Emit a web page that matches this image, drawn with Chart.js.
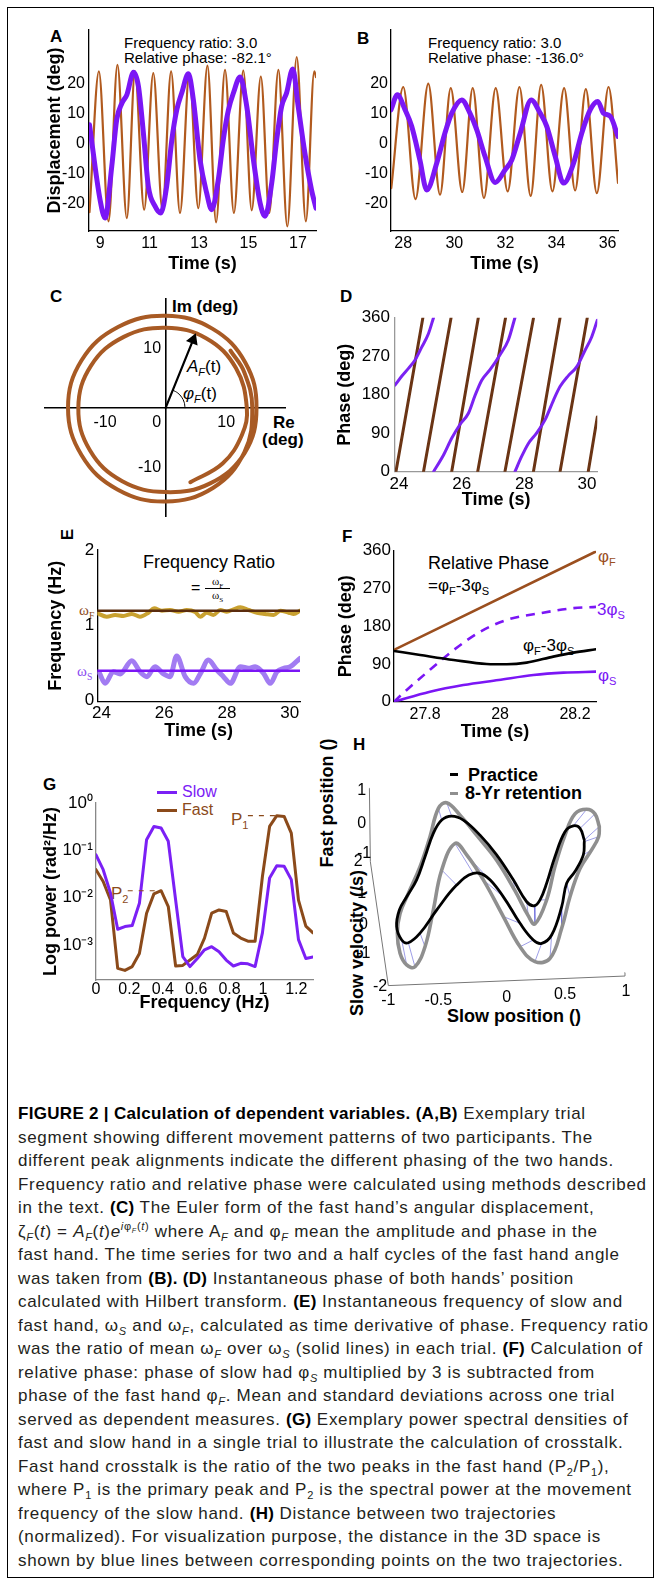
<!DOCTYPE html>
<html>
<head>
<meta charset="utf-8">
<title>Figure 2</title>
<script src="https://cdn.jsdelivr.net/npm/chart.js@4.4.1/dist/chart.umd.min.js"></script>
<style>
  html, body { margin: 0; padding: 0; background: #fff; }
  body { position: relative; width: 656px; height: 1581px; overflow: hidden;
         font-family: "Liberation Sans", Arial, Helvetica, sans-serif; color: #000; }
  #frame { position: absolute; left: 7px; top: 7px; width: 647px; height: 1571px; border: 1px solid #000; box-sizing: border-box; }
  canvas { position: absolute; }
  .t { position: absolute; white-space: nowrap; line-height: 1; font-size: 15px; }
  .pl { font-size: 17px; font-weight: bold; }
  .b18 { font-size: 18px; font-weight: bold; }
  .s17 { font-size: 17px; }
  .serif { font-family: "Liberation Serif", "DejaVu Serif", serif; }
  sub, sup { font-size: 0.65em; line-height: 0; }
  .bar { position: absolute; height: 3px; }
  .cap { position: absolute; left: 18px; top: 1102px; font-size: 17px; letter-spacing: 0.68px; line-height: 23.5px; color: #231f20; }
  .cap div { white-space: nowrap; }
  .cap b { color: #000; letter-spacing: 0.3px; }
</style>
</head>
<body>
<div id="frame"></div>

<!-- panel letters and annotations -->
<div class="t pl" style="left:50px;top:28px">A</div>
<div class="t" style="left:124px;top:34.5px">Frequency ratio: 3.0</div>
<div class="t" style="left:124px;top:49.5px">Relative phase: -82.1°</div>

<div class="t pl" style="left:357px;top:29.5px">B</div>
<div class="t" style="left:428px;top:34.5px">Frequency ratio: 3.0</div>
<div class="t" style="left:428px;top:49.5px">Relative phase: -136.0°</div>

<div class="t pl" style="left:50px;top:288px">C</div>
<div class="t s17" style="left:172px;top:297.5px;font-weight:bold">Im (deg)</div>
<div class="t s17" style="left:273px;top:413.5px;font-weight:bold">Re</div>
<div class="t s17" style="left:262px;top:430.5px;font-weight:bold">(deg)</div>
<div class="t s17" style="left:187px;top:358px"><i>A</i><sub><i>F</i></sub>(t)</div>
<div class="t s17" style="left:183px;top:385px"><i>φ</i><sub><i>F</i></sub>(t)</div>

<div class="t pl" style="left:340px;top:288px">D</div>

<div class="t pl" style="left:62px;top:525.5px;transform:rotate(-90deg)">E</div>
<div class="t" style="left:143px;top:552.5px;font-size:18px">Frequency Ratio</div>
<div class="t" style="left:191px;top:580px;font-size:16px">=</div>
<div class="t serif" style="left:205px;top:576px;font-size:11px;width:25px;text-align:center;border-bottom:1px solid #000;padding-bottom:1px">ω<sub>F</sub></div>
<div class="t serif" style="left:205px;top:590px;font-size:11px;width:25px;text-align:center">ω<sub>S</sub></div>
<div class="t serif" style="left:79px;top:602.5px;font-size:15px;color:#8b4a1c">ω<sub>F</sub></div>
<div class="t serif" style="left:77px;top:664px;font-size:15px;color:#8a4af0">ω<sub>S</sub></div>

<div class="t pl" style="left:342px;top:528px">F</div>
<div class="t" style="left:428px;top:553.5px;font-size:18px">Relative Phase</div>
<div class="t s17" style="left:428px;top:577px">=φ<sub>F</sub>-3φ<sub>S</sub></div>
<div class="t s17" style="left:598px;top:548px;color:#9b4f1f">φ<sub>F</sub></div>
<div class="t s17" style="left:597px;top:601px;color:#7b16f5">3φ<sub>S</sub></div>
<div class="t s17" style="left:523px;top:637px">φ<sub>F</sub>-3φ<sub>S</sub></div>
<div class="t s17" style="left:598px;top:667px;color:#7b16f5">φ<sub>S</sub></div>

<div class="t pl" style="left:43px;top:776px">G</div>
<div class="bar" style="left:157px;top:791px;width:20px;background:#7b20f5"></div>
<div class="t" style="left:182px;top:784px;font-size:16px;color:#7b20f5">Slow</div>
<div class="bar" style="left:157px;top:809px;width:20px;background:#8b4a1a"></div>
<div class="t" style="left:182px;top:802px;font-size:16px;color:#8b4a1a">Fast</div>
<div class="t s17" style="left:231px;top:811px;color:#8b4a1a">P<sub>1</sub></div>
<div class="t s17" style="left:111px;top:884.5px;color:#8b4a1a">P<sub>2</sub></div>

<div class="t pl" style="left:353px;top:736px">H</div>
<div class="bar" style="left:450px;top:773px;width:8px;background:#000"></div>
<div class="t b18" style="left:468px;top:766px">Practice</div>
<div class="bar" style="left:450px;top:791.5px;width:8px;background:#8f8f8f"></div>
<div class="t b18" style="left:465px;top:783.5px">8-Yr retention</div>
<div class="t b18" style="left:262px;top:794px;width:130px;text-align:center;transform:rotate(-90deg)">Fast position ()</div>
<div class="t b18" style="left:282px;top:934px;width:150px;text-align:center;transform:rotate(-90deg)">Slow velocity (/s)</div>
<div class="t b18" style="left:447px;top:1007px">Slow position ()</div>

<div class="cap">
<div><b>FIGURE 2 | Calculation of dependent variables. (A,B)</b> Exemplary trial</div>
<div>segment showing different movement patterns of two participants. The</div>
<div>different peak alignments indicate the different phasing of the two hands.</div>
<div>Frequency ratio and relative phase were calculated using methods described</div>
<div>in the text. <b>(C)</b> The Euler form of the fast hand’s angular displacement,</div>
<div>ζ<sub><i>F</i></sub>(<i>t</i>) = <i>A<sub>F</sub></i>(<i>t</i>)<i>e</i><sup><i>i</i>φ<sub><i>F</i></sub>(<i>t</i>)</sup> where A<sub><i>F</i></sub> and φ<sub><i>F</i></sub> mean the amplitude and phase in the</div>
<div>fast hand. The time series for two and a half cycles of the fast hand angle</div>
<div>was taken from <b>(B). (D)</b> Instantaneous phase of both hands’ position</div>
<div>calculated with Hilbert transform. <b>(E)</b> Instantaneous frequency of slow and</div>
<div>fast hand, ω<sub><i>S</i></sub> and ω<sub><i>F</i></sub>, calculated as time derivative of phase. Frequency ratio</div>
<div>was the ratio of mean ω<sub><i>F</i></sub> over ω<sub><i>S</i></sub> (solid lines) in each trial. <b>(F)</b> Calculation of</div>
<div>relative phase: phase of slow had φ<sub><i>S</i></sub> multiplied by 3 is subtracted from</div>
<div>phase of the fast hand φ<sub><i>F</i></sub>. Mean and standard deviations across one trial</div>
<div>served as dependent measures. <b>(G)</b> Exemplary power spectral densities of</div>
<div>fast and slow hand in a single trial to illustrate the calculation of crosstalk.</div>
<div>Fast hand crosstalk is the ratio of the two peaks in the fast hand (P<sub>2</sub>/P<sub>1</sub>),</div>
<div>where P<sub>1</sub> is the primary peak and P<sub>2</sub> is the spectral power at the movement</div>
<div>frequency of the slow hand. <b>(H)</b> Distance between two trajectories</div>
<div>(normalized). For visualization purpose, the distance in the 3D space is</div>
<div>shown by blue lines between corresponding points on the two trajectories.</div>
</div>

<script>
const FONT = '"Liberation Sans", Arial, Helvetica, sans-serif';
Chart.defaults.font.family = FONT;
Chart.defaults.color = '#000';

// ---------- A: displacement, participant 1 ----------
const aFastT = [8.57, 8.95, 9.34, 9.70, 10.08, 10.41, 10.78, 11.15, 11.52, 11.87, 12.23, 12.61, 12.97, 13.34, 13.69, 14.05, 14.41, 14.79, 15.13, 15.50, 15.84, 16.21, 16.57, 16.95, 17.32, 17.66, 17.73];
const aFastDeg = [-23, 23.9, -26.1, 26.1, -25.0, 23.9, -22.2, 23.3, -22.2, 23.9, -23.3, 23.3, -21.7, 25.8, -26.4, 24.4, -23.3, 24.2, -22.4, 22.2, -23.3, 24.4, -27.8, 28.7, -26.1, 23.9, 22.0];
const aSlowT = [8.57, 9.00, 9.20, 9.47, 9.67, 9.88, 10.08, 10.35, 10.55, 10.75, 10.95, 11.22, 11.45, 11.69, 11.90, 12.10, 12.30, 12.57, 12.77, 13.04, 13.31, 13.51, 13.78, 13.98, 14.19, 14.39, 14.66, 14.93, 15.20, 15.47, 15.67, 15.94, 16.14, 16.34, 16.54, 16.79, 17.01, 17.28, 17.55, 17.73];
const aSlowDeg = [6.1, -19.0, -25.0, -7.8, 7.8, 13.3, 16.1, 23.6, 18.9, 3.3, -14.4, -21.0, -23.3, -14.4, 1.1, 11.1, 16.7, 23.1, 14.4, -5.6, -16.7, -22.2, -12.2, 1.1, 11.1, 16.7, 22.0, 12.2, -5.6, -20.0, -24.4, -13.3, 1.1, 12.2, 16.7, 24.7, 12.2, -3.3, -15.6, -21.7];
const aTimeTicks = [9, 11, 13, 15, 17];
const dispTicks = [-20, -10, 0, 10, 20];

// ---------- B: displacement, participant 2 ----------
const bFastT = [27.53, 28.00, 28.48, 28.98, 29.44, 29.86, 30.31, 30.72, 31.16, 31.62, 32.09, 32.55, 32.99, 33.40, 33.84, 34.30, 34.73, 35.15, 35.58, 36.04, 36.41];
const bFastDeg = [-15.0, 18.7, -18.7, 19.8, -17.2, 18.3, -16.3, 18.3, -18.3, 18.3, -16.1, 18.7, -17.6, 19.4, -16.1, 18.3, -15.8, 18.0, -16.7, 18.7, -13.3];
const bSlowT = [27.52, 27.77, 28.07, 28.33, 28.65, 28.92, 29.31, 29.63, 29.90, 30.29, 30.61, 30.88, 31.20, 31.60, 31.99, 32.25, 32.58, 33.01, 33.36, 33.62, 33.95, 34.28, 34.67, 34.99, 35.32, 35.62, 35.84, 36.11, 36.41];
const bSlowDeg = [11.1, 16.1, 11.1, 5.6, -5.6, -15.6, -6.7, 3.3, 10.0, 14.4, 10.0, 4.4, -4.4, -13.1, -8.9, -5.6, 3.3, 14.4, 10.0, 5.6, -4.4, -13.3, -6.7, 3.3, 11.1, 13.9, 10.0, 8.9, 2.2];
const bTimeTicks = [28, 30, 32, 34, 36];

// ---------- C: Euler form of fast hand ----------
const cRe = [4.08, 9.40, 12.59, 13.4, 11.60, 6.75, 0, -6.9, -12.30, -14.4, -12.47, -7.15, 0, 7.35, 13.08, 15.0, 13.16, 7.7, 0, -7.85, -13.86, -16.1, -13.86, -7.95, 0, 7.8, 12.99, 14.3, 12.96, 10.70];
const cIm = [-12.55, -9.40, -4.58, 0, 6.70, 11.69, 13.5, 11.95, 7.10, 0, -7.2, -12.38, -14.2, -12.73, -7.55, 0, 7.6, 13.34, 15.5, 13.6, 8.0, 0, -8.0, -13.77, -15.8, -13.51, -7.5, 0, 6.04, 9.64];
const cArrowRe = [0, 4.54];
const cArrowIm = [0, 11.44];
const cArcRe = [3.2, 3.06, 2.65, 2.01, 1.2];
const cArcIm = [0, 0.94, 1.79, 2.49, 2.97];

// ---------- D: instantaneous phase ----------
const dFastStart = [23.90, 24.78, 25.68, 26.51, 27.38, 28.29, 29.14, 30.04];
const dFastEnd = [24.76, 25.66, 26.53, 27.40, 28.29, 29.14, 30.01, 30.33];
const dFastEndDeg = [360, 360, 360, 360, 358, 360, 360, 128];
const dSlowT = [23.87, 24.09, 24.30, 24.51, 24.72, 24.94, 25.10, null,
                25.10, 25.42, 25.68, 25.95, 26.21, 26.43, 26.64, 26.90, 27.22, 27.49, 27.70, null,
                27.70, 27.91, 28.13, 28.39, 28.66, 28.93, 29.14, 29.40, 29.67, 29.94, 30.15, 30.33];
const dSlowDeg = [202.5, 223.6, 241.5, 261, 290.6, 323, 360, null,
                  0, 39, 78, 111, 136, 179, 214, 238, 273, 308, 360, null,
                  0, 35, 66, 90, 121, 167, 199, 224, 245, 284, 315, 354];
const dTimeTicks = [24, 26, 28, 30];
const phaseTicks = [0, 90, 180, 270, 360];

// ---------- E: instantaneous frequency ----------
const eFastT = [23.87, 24.17, 24.44, 24.70, 24.97, 25.23, 25.50, 25.68, 25.93, 26.19, 26.46, 26.72, 26.99, 27.15, 27.36, 27.57, 27.79, 28.00, 28.21, 28.43, 28.69, 28.96, 29.22, 29.49, 29.70, 29.97, 30.13, 30.33];
const eFastHz = [1.156, 1.111, 1.133, 1.12, 1.147, 1.111, 1.164, 1.222, 1.191, 1.2, 1.178, 1.2, 1.173, 1.111, 1.164, 1.133, 1.2, 1.178, 1.209, 1.236, 1.2, 1.164, 1.147, 1.133, 1.191, 1.164, 1.147, 1.191];
const eSlowT = [23.94, 24.12, 24.38, 24.60, 24.97, 25.23, 25.45, 25.71, 25.98, 26.19, 26.40, 26.67, 26.94, 27.15, 27.41, 27.68, 27.89, 28.11, 28.43, 28.69, 28.90, 29.17, 29.38, 29.60, 29.81, 30.02, 30.33];
const eSlowHz = [0.356, 0.222, 0.378, 0.347, 0.524, 0.378, 0.311, 0.444, 0.347, 0.311, 0.587, 0.311, 0.222, 0.347, 0.533, 0.4, 0.311, 0.222, 0.444, 0.422, 0.444, 0.356, 0.222, 0.378, 0.422, 0.444, 0.556];
const eMeanFast = 1.19;
const eMeanSlow = 0.39;
const eTimeSpan = [23.87, 30.33];

// ---------- F: relative phase ----------
const fFastT = [27.717, 28.256];
const fFastDeg = [123.5, 358];
const f3SlowT = [27.717, 27.751, 27.813, 27.876, 27.947, 28.018, 28.107, 28.196, 28.256];
const f3SlowDeg = [0, 28, 76, 123, 167, 195, 211, 223, 226];
const fSlowT = [27.717, 27.813, 27.902, 27.996, 28.089, 28.169, 28.256];
const fSlowDeg = [0, 23.9, 39.8, 51.7, 63.7, 69.3, 71.6];
const fRelT = [27.717, 27.787, 27.876, 27.964, 28.018, 28.071, 28.142, 28.196, 28.256];
const fRelDeg = [121, 111.4, 99.5, 90, 89.2, 93.1, 107.5, 117, 125];

// ---------- G: power spectral density ----------
const gFreq = [0, 0.043, 0.087, 0.13, 0.173, 0.217, 0.26, 0.303, 0.347, 0.39, 0.433, 0.477, 0.52, 0.563, 0.607, 0.65, 0.693, 0.737, 0.78, 0.823, 0.867, 0.91, 0.953, 0.997, 1.04, 1.083, 1.127, 1.17, 1.213, 1.257, 1.3];
const gSlow = [0.08, 0.039, 0.0124, 0.00215, 0.00245, 0.00257, 0.0076, 0.167, 0.32, 0.296, 0.155, 0.0089, 0.00057, 0.00035, 0.00052, 0.00079, 0.00092, 0.00072, 0.00048, 0.00036, 0.00041, 0.0004, 0.00035, 0.0018, 0.026, 0.047, 0.046, 0.024, 0.0013, 0.00052, 0.00056];
const gFast = [0.039, 0.022, 0.0089, 0.00032, 0.00029, 0.00035, 0.00066, 0.0047, 0.012, 0.014, 0.0065, 0.00036, 0.00037, 0.00048, 0.00063, 0.0014, 0.0047, 0.0055, 0.0051, 0.0018, 0.0014, 0.0012, 0.0012, 0.028, 0.32, 0.54, 0.52, 0.23, 0.0089, 0.0025, 0.0018];
const gP1 = {from: 0.91, to: 1.1, value: 0.54};
const gP2 = {from: 0.19, to: 0.37, value: 0.014};
const gFreqTicks = [0, 0.2, 0.4, 0.6, 0.8, 1, 1.2];
const gPowTicks = [0.001, 0.01, 0.1, 1];
const gPowLabels = {1: '10⁰', 0.1: '10⁻¹', 0.01: '10⁻²', 0.001: '10⁻³'};

// ---------- H: trajectories (projected 3D view) ----------
const hPracX = [0.656, 0.620, 0.563, 0.493, 0.408, 0.338, 0.282, 0.234, 0.169, 0.056, -0.085, -0.225, -0.366, -0.465, -0.549, -0.620, -0.690, -0.761, -0.845, -0.907, -0.930, -0.887, -0.831, -0.732, -0.592, -0.423, -0.282, -0.169, -0.028, 0.113, 0.225, 0.296, 0.380, 0.465, 0.507, 0.577, 0.648, 0.656];
const hPracY = [2.70, 3.08, 3.16, 2.97, 2.16, 1.30, 0.76, 0.57, 0.70, 1.41, 2.22, 2.86, 3.35, 3.48, 3.35, 2.92, 2.16, 1.41, 0.86, 0.43, -0.11, -0.54, -0.63, -0.32, 0.43, 1.24, 1.62, 1.51, 0.86, 0.00, -0.54, -0.65, -0.38, 0.54, 1.30, 1.68, 2.22, 2.65];
const hRetX = [0.783, 0.746, 0.676, 0.577, 0.493, 0.408, 0.338, 0.239, 0.183, 0.070, -0.085, -0.254, -0.394, -0.507, -0.577, -0.648, -0.732, -0.831, -0.901, -0.924, -0.901, -0.845, -0.775, -0.690, -0.620, -0.549, -0.437, -0.338, -0.197, -0.028, 0.113, 0.239, 0.366, 0.465, 0.535, 0.620, 0.718, 0.777];
const hRetY = [3.14, 3.55, 3.70, 3.55, 2.86, 1.84, 0.76, -0.02, 0.24, 1.06, 2.05, 2.86, 3.51, 3.91, 3.73, 2.81, 1.84, 0.97, 0.32, -0.32, -0.97, -1.35, -1.41, -0.76, 0.43, 1.73, 2.59, 2.22, 1.41, 0.22, -0.76, -1.24, -1.14, -0.16, 0.86, 1.78, 2.38, 2.81];
const hAxisX = [-1.16, -1.152, -1.0, 1.0, 1.0];
const hAxisY = [4.38, 2.0, -2.02, -1.71, -1.60];
const hTickText = ['-1', '-0.5', '0', '0.5', '1', '2', '1', '0', '-1', '-2', '1', '0', '-1'];
const hTickX = [-1.0, -0.577, 0.0, 0.493, 1.008, -1.254, -1.225, -1.211, -1.211, -1.07, -1.225, -1.225, -1.205];
const hTickY = [-2.51, -2.51, -2.4, -2.32, -2.22, 2.0, 0.97, -0.03, -0.97, -2.05, 4.32, 3.24, 2.25];

// ---------- helpers ----------
function pts(xs, ys) { return xs.map((x, i) => ({x: x, y: ys[i]})); }

function line(data, color, width, extra) {
  return Object.assign({data: data, showLine: true, borderColor: color, backgroundColor: color,
    borderWidth: width, pointRadius: 0, pointHoverRadius: 0, fill: false,
    borderCapStyle: 'round', borderJoinStyle: 'round'}, extra || {});
}
const mono = {cubicInterpolationMode: 'monotone'};

function axis(o) {
  return {
    type: o.type || 'linear', min: o.min, max: o.max,
    display: o.display === undefined ? true : o.display,
    position: o.position,
    grid: {display: false, drawTicks: false},
    border: {display: true, color: o.color || '#000', width: o.bw || 1.3, dash: o.dash || []},
    ticks: {color: '#000', padding: o.pad === undefined ? 4 : o.pad, autoSkip: false, maxRotation: 0, minRotation: 0,
            font: {family: FONT, size: o.fs || 16}, callback: o.cb || (v => String(v))},
    afterBuildTicks: s => { s.ticks = (o.ticks || []).map(v => ({value: v})); },
    afterFit: s => { if (o.size !== undefined) { if (s.isHorizontal()) s.height = o.size; else s.width = o.size; } },
    title: o.title ? {display: true, text: o.title, color: '#000',
                      font: {family: FONT, size: o.tfs || 18, weight: 'bold'}, padding: o.tpad} : {display: false}
  };
}

function panel(box, area, datasets, scales, plugins, fullPad) {
  const cv = document.createElement('canvas');
  cv.width = box.w; cv.height = box.h;
  cv.style.left = box.x + 'px'; cv.style.top = box.y + 'px';
  cv.style.width = box.w + 'px'; cv.style.height = box.h + 'px';
  document.body.appendChild(cv);
  const pad = {left: 0, top: area.t - box.y, right: box.x + box.w - area.r, bottom: 0};
  if (fullPad) { pad.left = area.l - box.x; pad.bottom = box.y + box.h - area.b; }
  return new Chart(cv, {
    type: 'scatter',
    data: {datasets: datasets},
    options: {
      responsive: false, animation: false, devicePixelRatio: 1, events: [],
      layout: {padding: pad},
      plugins: {legend: {display: false}, tooltip: {enabled: false}},
      scales: scales
    },
    plugins: plugins || []
  });
}

const BROWN = '#b15a1e', PURPLE = '#7b16f5';

// ---------- A ----------
(function () {
  const box = {x: 25, y: 15, w: 305, h: 265}, area = {l: 89, t: 30, r: 316, b: 231};
  panel(box, area, [
    line(pts(aSlowT, aSlowDeg), PURPLE, 5, mono),
    line(pts(aFastT, aFastDeg), BROWN, 2.2, mono)
  ], {
    x: axis({min: 8.55, max: 17.73, ticks: aTimeTicks, size: box.y + box.h - area.b, pad: 3, title: 'Time (s)', tpad: {bottom: 5}}),
    y: axis({min: -29.3, max: 37.7, ticks: dispTicks, size: area.l - box.x, pad: 4, title: 'Displacement (deg)', tpad: {top: 19}})
  });
})();

// ---------- B ----------
(function () {
  const box = {x: 330, y: 15, w: 305, h: 265}, area = {l: 391, t: 30, r: 618, b: 231};
  panel(box, area, [
    line(pts(bSlowT, bSlowDeg), PURPLE, 5, mono),
    line(pts(bFastT, bFastDeg), BROWN, 2.2, mono)
  ], {
    x: axis({min: 27.52, max: 36.41, ticks: bTimeTicks, size: box.y + box.h - area.b, pad: 3, title: 'Time (s)', tpad: {bottom: 5}}),
    y: axis({min: -29.3, max: 37.7, ticks: dispTicks, size: area.l - box.x, pad: 3})
  });
})();

// ---------- C ----------
(function () {
  const box = {x: 35, y: 285, w: 260, h: 245}, area = {l: 45, t: 298, r: 285, b: 518};
  panel(box, area, [
    line(pts(cArrowRe, cArrowIm), '#000', 2.2, {pointRadius: [0, 5], pointStyle: 'triangle', pointRotation: 21.6}),
    line(pts(cArcRe, cArcIm), '#000', 1, {tension: 0.4}),
    line(pts(cRe, cIm), '#a85a24', 4, {tension: 0.4})
  ], {
    x: axis({min: -19.9, max: 19.7, ticks: [-10, 0, 10], position: {y: 0}, pad: 5, bw: 1.6,
             cb: v => (v === 0 ? '0    ' : String(v))}),
    y: axis({min: -18.3, max: 18.4, ticks: [-10, 10], position: {x: 0}, bw: 1.6, cb: v => String(v) + ' '})
  }, [], true);
})();

// ---------- D ----------
(function () {
  const box = {x: 330, y: 290, w: 290, h: 222}, area = {l: 395, t: 317.7, r: 597.3, b: 471.7};
  const fast = [];
  dFastStart.forEach((t0, i) => {
    fast.push({x: t0, y: 0}, {x: dFastEnd[i], y: dFastEndDeg[i]}, {x: null, y: null});
  });
  panel(box, area, [
    line(pts(dSlowT, dSlowDeg), '#7b22f2', 3, mono),
    line(fast, '#6a3414', 3)
  ], {
    x: axis({min: 23.87, max: 30.33, ticks: dTimeTicks, size: box.y + box.h - area.b, pad: 2, fs: 17, color: '#999',
             title: 'Time (s)', tpad: {bottom: 1}}),
    y: axis({min: 0, max: 360, ticks: phaseTicks, size: area.l - box.x, pad: 5, fs: 17, color: '#999',
             title: 'Phase (deg)', tpad: {top: 4}})
  });
})();

// ---------- E ----------
(function () {
  const box = {x: 30, y: 525, w: 285, h: 225}, area = {l: 97.3, t: 550, r: 300, b: 701.7};
  panel(box, area, [
    line(pts(eTimeSpan, [eMeanFast, eMeanFast]), '#5b2c0e', 2.5),
    line(pts(eTimeSpan, [eMeanSlow, eMeanSlow]), PURPLE, 2.5),
    line(pts(eFastT, eFastHz), '#c9a130', 4, mono),
    line(pts(eSlowT, eSlowHz), '#a27cf2', 5, mono)
  ], {
    x: axis({min: 23.87, max: 30.33, ticks: dTimeTicks, size: box.y + box.h - area.b, pad: 1, fs: 17,
             title: 'Time (s)', tpad: {bottom: 8}}),
    y: axis({min: -0.023, max: 2, ticks: [0, 1, 2], size: area.l - box.x, pad: 3, fs: 17,
             title: 'Frequency (Hz)', tpad: {top: 15}})
  });
})();

// ---------- F ----------
(function () {
  const box = {x: 330, y: 525, w: 300, h: 225}, area = {l: 394, t: 550.7, r: 596, b: 701.7};
  panel(box, area, [
    line(pts(fRelT, fRelDeg), '#000', 2.6, mono),
    line(pts(fSlowT, fSlowDeg), PURPLE, 2.6, mono),
    line(pts(f3SlowT, f3SlowDeg), PURPLE, 2.6, Object.assign({borderDash: [9, 7], borderCapStyle: 'butt'}, mono)),
    line(pts(fFastT, fFastDeg), '#9b4f1f', 2.6)
  ], {
    x: axis({min: 27.717, max: 28.256, ticks: [27.8, 28, 28.2], size: box.y + box.h - area.b, pad: 3, fs: 16,
             title: 'Time (s)', tpad: {bottom: 7}}),
    y: axis({min: 0, max: 360, ticks: phaseTicks, size: area.l - box.x, pad: 3, fs: 17,
             title: 'Phase (deg)', tpad: {top: 5}})
  });
})();

// ---------- G ----------
(function () {
  const box = {x: 30, y: 770, w: 295, h: 250}, area = {l: 96, t: 803, r: 313, b: 980};
  panel(box, area, [
    line(pts([gP1.from, gP1.to], [gP1.value, gP1.value]), '#8b4a1a', 1.2, {borderDash: [5, 6], borderCapStyle: 'butt'}),
    line(pts([gP2.from, gP2.to], [gP2.value, gP2.value]), '#8b4a1a', 1.2, {borderDash: [5, 6], borderCapStyle: 'butt'}),
    line(pts(gFreq, gSlow), '#7b20f5', 3),
    line(pts(gFreq, gFast), '#8b4a1a', 3)
  ], {
    x: axis({min: 0, max: 1.3, ticks: gFreqTicks, size: box.y + box.h - area.b, pad: 0, fs: 16, color: '#888',
             title: 'Frequency (Hz)', tpad: {bottom: 6}}),
    y: axis({type: 'logarithmic', min: 0.000182, max: 1, ticks: gPowTicks, size: area.l - box.x, pad: 3, fs: 17,
             color: '#888', dash: [2, 2], cb: v => gPowLabels[v] || '', title: 'Log power (rad²/Hz)', tpad: {top: 10}})
  });
})();

// ---------- H ----------
(function () {
  const box = {x: 330, y: 760, w: 320, h: 265}, area = {l: 360, t: 780, r: 640, b: 1000};
  const links = [];
  hPracX.forEach((x, i) => {
    links.push({x: x, y: hPracY[i]}, {x: hRetX[i], y: hRetY[i]}, {x: null, y: null});
  });
  const ret = pts(hRetX, hRetY);
  ret.push({x: hRetX[0], y: hRetY[0]});
  const tickPlugin = {
    id: 'hTicks',
    afterDatasetsDraw(chart) {
      const {ctx, scales} = chart;
      ctx.save();
      ctx.font = '16px ' + FONT;
      ctx.fillStyle = '#000';
      ctx.textAlign = 'center';
      ctx.textBaseline = 'middle';
      hTickText.forEach((s, i) => ctx.fillText(s, scales.x.getPixelForValue(hTickX[i]), scales.y.getPixelForValue(hTickY[i])));
      ctx.restore();
    }
  };
  panel(box, area, [
    line(pts(hPracX, hPracY), '#000', 2.8, {tension: 0.4}),
    line(ret, '#8f8f8f', 3.6, {tension: 0.4}),
    line(links, '#5a5ad6', 0.6),
    line(pts(hAxisX, hAxisY), '#777', 1)
  ], {
    x: {type: 'linear', display: false, min: -1.2395, max: 1.1268},
    y: {type: 'linear', display: false, min: -2.487, max: 4.649}
  }, [tickPlugin], true);
})();
</script>
</body>
</html>
